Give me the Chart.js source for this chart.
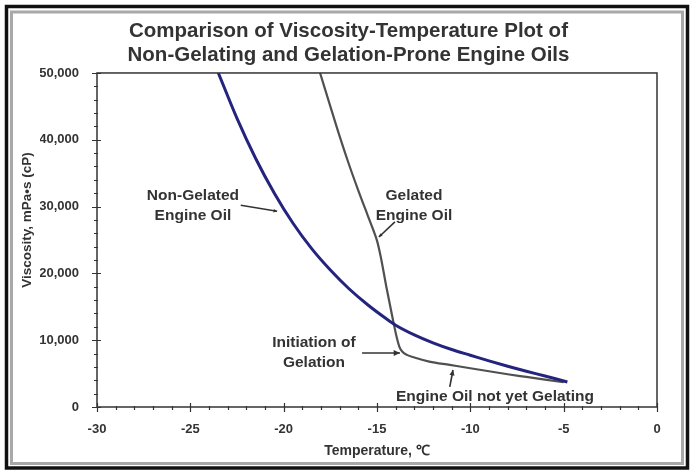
<!DOCTYPE html>
<html>
<head>
<meta charset="utf-8">
<script src="https://cdn.jsdelivr.net/npm/chart.js@4.4.1/dist/chart.umd.min.js"></script>
<style>
  html, body { margin: 0; padding: 0; background: #fff; }
  #wrap { width: 694px; height: 474px; }
</style>
</head>
<body>
<div id="wrap"><canvas id="viscChart" width="694" height="474"></canvas></div>
<script>
// Non-gelated oil (blue curve)
const plainTemps = [-23.5, -22.5, -21.5, -20.5, -19.5, -18.5, -17.5, -16.5, -15.5, -14.5, -14.0, -13, -12, -11, -10, -9, -8, -7, -6, -5, -4.8];
const plainVisc  = [50000, 43200, 37200, 32000, 27500, 23700, 20500, 17700, 15300, 13200, 12250, 10800, 9600, 8600, 7750, 6900, 6100, 5350, 4650, 3900, 3750];

// Gelation-prone oil (grey curve)
const gelTemps = [-18.05, -17.5, -17.0, -16.5, -16.0, -15.5, -15.2, -15.0, -14.8, -14.5, -14.2, -13.95, -13.8, -13.65, -13.4, -13.0, -12.2, -11.1, -10.0, -9.0, -8.0, -7.0, -6.0, -5.0];
const gelVisc  = [50000, 45000, 40500, 36300, 32400, 28700, 26500, 24900, 22500, 18000, 13800, 10500, 9000, 8300, 7800, 7400, 6800, 6300, 5800, 5350, 4900, 4500, 4100, 3700];

const titleLines = ['Comparison of Viscosity-Temperature Plot of', 'Non-Gelating and Gelation-Prone Engine Oils'];
const xTitle = 'Temperature, \u2103';
const yTitle = 'Viscosity, mPa\u2022s (cP)';

// callouts: text anchor and arrow in data units
const notes = [
  { lines: ['Non-Gelated', 'Engine Oil'], at: [-24.86, 31700], from: [-22.3, 30200], to: [-20.35, 29300], head: 4 },
  { lines: ['Gelated', 'Engine Oil'], at: [-13.02, 31700], from: [-14.04, 27700], to: [-14.9, 25450], head: 4 },
  { lines: ['Initiation of', 'Gelation'], at: [-18.38, 9600], from: [-15.8, 8080], to: [-13.77, 8080], head: 7 },
  { lines: ['Engine Oil not yet Gelating'], at: [-8.68, 1500], from: [-11.1, 3000], to: [-10.93, 5540], head: 6 }
];

const txt = '#333';
const fontFam = '"Liberation Sans", Arial, sans-serif';

const toXY = (xs, ys) => xs.map((x, i) => ({ x: x, y: ys[i] }));

const framePlugin = {
  id: 'frame',
  beforeDraw(chart) {
    const c = chart.ctx;
    c.save();
    c.fillStyle = '#fff';
    c.fillRect(0, 0, chart.width, chart.height);
    c.strokeStyle = '#111';
    c.lineWidth = 3.5;
    c.strokeRect(6.5, 6.5, 681, 461.5);
    c.strokeStyle = '#a8a8a8';
    c.lineWidth = 3;
    c.strokeRect(11.5, 12, 671, 451.5);
    c.restore();
  }
};

const axesPlugin = {
  id: 'axesTicks',
  afterDatasetsDraw(chart) {
    const c = chart.ctx, a = chart.chartArea;
    const xs = chart.scales.x, ys = chart.scales.y;
    c.save();
    c.strokeStyle = '#333';
    c.lineWidth = 1.5;
    c.strokeRect(a.left, a.top, a.right - a.left, a.bottom - a.top);
    c.lineWidth = 1.2;
    c.beginPath();
    for (let t = xs.min; t <= xs.max; t += 1) {
      const px = Math.round(xs.getPixelForValue(t)) + 0.5;
      const major = t % 5 === 0;
      c.moveTo(px, a.bottom - (major ? 4 : 1));
      c.lineTo(px, a.bottom + (major ? 5 : 3));
    }
    for (let v = ys.min; v <= ys.max; v += 2000) {
      const py = Math.round(ys.getPixelForValue(v)) + 0.5;
      const major = v % 10000 === 0;
      c.moveTo(a.left - (major ? 5 : 3), py);
      c.lineTo(a.left + (major ? 4 : 1), py);
    }
    c.stroke();

    // y axis title
    c.fillStyle = txt;
    c.font = 'bold 13.5px ' + fontFam;
    c.textAlign = 'center';
    c.textBaseline = 'middle';
    c.translate(27, ys.getPixelForValue(28000));
    c.rotate(-Math.PI / 2);
    c.fillText(yTitle, 0, 0);
    c.restore();
  }
};

const notesPlugin = {
  id: 'notes',
  afterDraw(chart) {
    const c = chart.ctx;
    const xs = chart.scales.x, ys = chart.scales.y;
    const P = p => [xs.getPixelForValue(p[0]), ys.getPixelForValue(p[1])];
    c.save();
    c.fillStyle = txt;
    c.strokeStyle = '#333';
    c.font = 'bold 15.5px ' + fontFam;
    c.textAlign = 'center';
    c.textBaseline = 'middle';
    notes.forEach(n => {
      const [tx, ty] = P(n.at);
      n.lines.forEach((s, i) => c.fillText(s, tx, ty + i * 20));
      const [x0, y0] = P(n.from);
      const [x1, y1] = P(n.to);
      c.lineWidth = 1.6;
      c.beginPath();
      c.moveTo(x0, y0);
      c.lineTo(x1, y1);
      c.stroke();
      const ang = Math.atan2(y1 - y0, x1 - x0);
      const h = n.head;
      c.beginPath();
      c.moveTo(x1, y1);
      c.lineTo(x1 - h * Math.cos(ang - 0.45), y1 - h * Math.sin(ang - 0.45));
      c.lineTo(x1 - h * Math.cos(ang + 0.45), y1 - h * Math.sin(ang + 0.45));
      c.closePath();
      c.fill();
    });
    c.restore();
  }
};

new Chart(document.getElementById('viscChart'), {
  type: 'line',
  data: {
    datasets: [
      {
        label: 'Non-Gelated Engine Oil',
        data: toXY(plainTemps, plainVisc),
        borderColor: '#24247e',
        borderWidth: 3,
        pointRadius: 0,
        cubicInterpolationMode: 'monotone',
        fill: false
      },
      {
        label: 'Gelated Engine Oil',
        data: toXY(gelTemps, gelVisc),
        borderColor: '#505050',
        borderWidth: 2.2,
        pointRadius: 0,
        cubicInterpolationMode: 'monotone',
        fill: false
      }
    ]
  },
  options: {
    responsive: false,
    animation: false,
    layout: { padding: { left: 40, right: 37, top: 0, bottom: 0 } },
    plugins: {
      legend: { display: false },
      tooltip: { enabled: false },
      title: {
        display: true,
        text: titleLines,
        color: txt,
        font: { family: fontFam, size: 20.5, weight: 'bold', lineHeight: 1.17 },
        padding: { top: 19, bottom: 6 }
      }
    },
    scales: {
      x: {
        type: 'linear',
        min: -30,
        max: 0,
        grid: { display: false },
        border: { display: false },
        ticks: { stepSize: 5, color: txt, padding: 7, font: { family: fontFam, size: 13, weight: 'bold' } },
        title: { display: true, text: xTitle, color: txt, padding: { top: 0, bottom: 14 },
                 font: { family: fontFam, size: 14, weight: 'bold', lineHeight: 1.2 } },
        afterFit: s => { s.height = 67; }
      },
      y: {
        min: 0,
        max: 50000,
        grid: { display: false },
        border: { display: false },
        ticks: { stepSize: 10000, color: txt, padding: 10, font: { family: fontFam, size: 13, weight: 'bold' } },
        afterFit: s => { s.width = 57; }
      }
    }
  },
  plugins: [framePlugin, axesPlugin, notesPlugin]
});
</script>
</body>
</html>
